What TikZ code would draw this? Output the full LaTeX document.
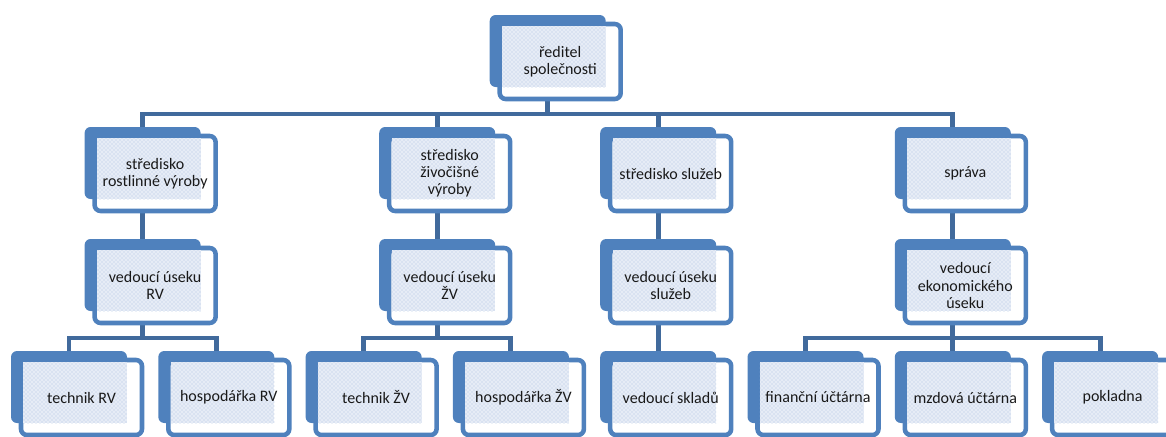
\documentclass[tikz,border=0pt]{standalone}
\usepackage{fontspec}
\setmainfont{Carlito}
\usetikzlibrary{calc,patterns}
\pgfdeclarelayer{bg}
\pgfsetlayers{bg,main}
\definecolor{accent}{RGB}{79,129,189}
\definecolor{connc}{RGB}{65,106,156}
\definecolor{lightfill}{RGB}{230,236,246}
\definecolor{dotc}{RGB}{176,196,226}
\tikzset{
  backbox/.style={fill=accent, draw=none, rounded corners=4.5pt, minimum width=87pt, minimum height=54pt, inner sep=0pt, outer sep=0pt},
  frontbox/.style={fill=white, draw=accent, line width=3.4pt, rounded corners=4.5pt, minimum width=90.75pt, minimum height=56.25pt, inner sep=0pt, outer sep=0pt},
  dotarea/.style={fill=lightfill, postaction={pattern=crosshatch dots, pattern color=dotc}},
  labeltext/.style={font=\fontsize{12pt}{12.8pt}\selectfont, align=center, text=black!90, inner sep=0pt},
  conn/.style={draw=connc, line width=3.7pt}
}
\newcommand\orgbox[4]{%
  \node[backbox, anchor=north west] (#1b) at (#2,#3) {};
  \node[frontbox, anchor=north west] (#1f) at ($(#1b.north west)+(10,9)$) {};
  \fill[dotarea] ($(#1f.north west)+(2.3,2.3)$) rectangle (#1b.south east);
  \node[labeltext] (#1) at (#1f.center) {#4};
}
\begin{document}
\begin{tikzpicture}[x=0.75pt, y=-0.75pt]
\useasboundingbox (0,0) rectangle (1166,436);
% level 4 leaves
\orgbox{l1}{11}{351}{technik RV}
\orgbox{l2}{158.3}{351}{hospodářka RV}
\orgbox{l3}{305.6}{351}{technik ŽV}
\orgbox{l4}{452.9}{351}{hospodářka ŽV}
\orgbox{l5}{600.2}{351}{vedoucí skladů}
\orgbox{l6}{747.5}{351}{finanční účtárna}
\orgbox{l7}{894.8}{351}{mzdová účtárna}
\orgbox{l8}{1042.1}{351}{pokladna}
% level 3
\orgbox{v1}{84.6}{239}{vedoucí úseku\\RV}
\orgbox{v2}{379.2}{239}{vedoucí úseku\\ŽV}
\orgbox{v3}{600.2}{239}{vedoucí úseku\\služeb}
\orgbox{v4}{894.8}{239}{vedoucí\\ekonomického\\úseku}
% level 2
\orgbox{s1}{84.6}{127}{středisko\\rostlinné výroby}
\orgbox{s2}{379.2}{127}{středisko\\živočišné\\výroby}
\orgbox{s3}{600.2}{127}{středisko služeb}
\orgbox{s4}{894.8}{127}{správa}
% level 1
\orgbox{r}{489.7}{15}{ředitel\\společnosti}
% connectors behind the shapes
\begin{pgfonlayer}{bg}
\foreach \c in {s1,s2,s3,s4}
  \draw[conn] (rb.south) |- ($(\c b.north)+(0,-13)$) -- (\c b.north);
\draw[conn] (s1b.south) -- (v1b.north);
\draw[conn] (s2b.south) -- (v2b.north);
\draw[conn] (s3b.south) -- (v3b.north);
\draw[conn] (s4b.south) -- (v4b.north);
\foreach \c in {l1,l2}
  \draw[conn] (v1b.south) |- ($(\c b.north)+(0,-13)$) -- (\c b.north);
\foreach \c in {l3,l4}
  \draw[conn] (v2b.south) |- ($(\c b.north)+(0,-13)$) -- (\c b.north);
\draw[conn] (v3b.south) -- (l5b.north);
\foreach \c in {l6,l7,l8}
  \draw[conn] (v4b.south) |- ($(\c b.north)+(0,-13)$) -- (\c b.north);
\end{pgfonlayer}
\end{tikzpicture}
\end{document}
